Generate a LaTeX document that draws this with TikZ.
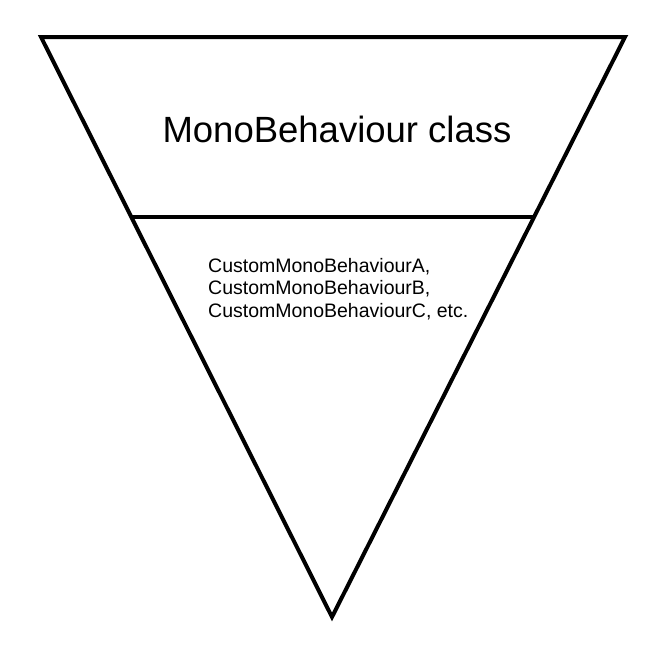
\documentclass[tikz,border=0pt]{standalone}
\usepackage{fontspec}
\setmainfont{Liberation Sans}
\begin{document}
\begin{tikzpicture}[x=1pt,y=-1pt,
  edge/.style={line width=4pt,line join=miter,black},
  bigtext/.style={font=\fontsize{36.5}{40}\selectfont,inner sep=0pt,anchor=base},
  smalltext/.style={font=\fontsize{19.5}{22.5}\selectfont,inner sep=0pt,align=left,anchor=base west}]
\useasboundingbox (0,0) rectangle (665,646);
\fill[white] (0,0) rectangle (665,646);
\coordinate (tl) at (41,37);
\coordinate (tr) at (625,37);
\coordinate (bt) at (332,617);
\draw[edge] (tl) -- (tr) -- (bt) -- cycle;
\path (tl) -- (bt) coordinate[pos=0.310] (ml);
\path (tr) -- (bt) coordinate[pos=0.310] (mr);
\draw[edge] (ml) -- (mr);
\node[bigtext] (mb) at (337,142) {MonoBehaviour class};
\node[smalltext] (cm) at (208,317) {CustomMonoBehaviourA,\\CustomMonoBehaviourB,\\CustomMonoBehaviourC, etc.};
\end{tikzpicture}
\end{document}
